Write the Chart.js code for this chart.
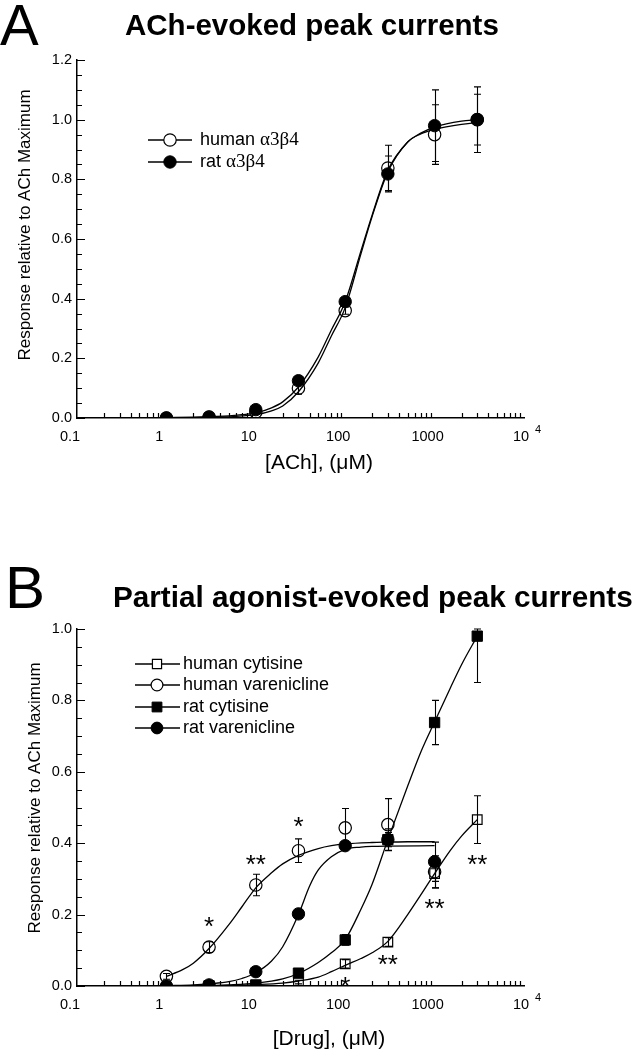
<!DOCTYPE html>
<html><head><meta charset="utf-8">
<script src="https://cdn.jsdelivr.net/npm/chart.js@4.4.1/dist/chart.umd.min.js"></script>
<style>
html,body{margin:0;padding:0;background:#fff;}
#wrap{position:relative;width:636px;height:1050px;overflow:hidden;background:#fff;}
canvas{position:absolute;left:0;}
</style></head><body>
<div id="wrap">
<canvas id="cA" width="636" height="480" style="top:0px"></canvas>
<canvas id="cB" width="636" height="570" style="top:480px"></canvas>
</div>
<script>
// ---------------- DATA ----------------
// Panel A: ACh concentration-response
const concA = [1, 3, 10, 30, 100, 300, 1000, 3000];
const humanA = [0.0, 0.003, 0.02, 0.10, 0.36, 0.838, 0.95, 1.0];
const humanAErr = [0, 0, 0.005, 0.02, 0.012, 0.076, 0.10, 0.085];
const ratA = [0.0, 0.003, 0.028, 0.125, 0.39, 0.818, 0.98, 1.0];
const ratAErr = [0, 0, 0.006, 0.012, 0.01, 0.06, 0.12, 0.11];
// fitted curves of panel A
const fitConcA = [1, 2, 3, 5, 7, 10, 15, 20, 30, 50, 70, 100, 150, 200, 300, 500, 700, 1000, 2000, 3000];
const humanAFit = [0.0005, 0.0015, 0.003, 0.004, 0.007, 0.011, 0.024, 0.04, 0.088, 0.185, 0.275, 0.37, 0.55, 0.675, 0.825, 0.925, 0.952, 0.967, 0.984, 0.99];
const ratAFit = [0.001, 0.003, 0.005, 0.007, 0.011, 0.017, 0.034, 0.054, 0.104, 0.205, 0.295, 0.39, 0.56, 0.68, 0.83, 0.925, 0.955, 0.975, 0.995, 1.0];

// Panel B: partial agonists
const concVar = [1, 3, 10, 30, 100, 300, 1000];
const concCyt = [3, 10, 30, 100, 300, 1000, 3000];
const humanCyt = [0.0, 0.002, 0.011, 0.062, 0.123, 0.315, 0.466];
const humanCytErr = [0, 0, 0.005, 0.012, 0.012, 0.04, 0.067];
const humanVar = [0.027, 0.109, 0.283, 0.379, 0.443, 0.452, 0.32];
const humanVarErr = [0.008, 0.015, 0.03, 0.033, 0.054, 0.073, 0.045];
const ratCyt = [0.0, 0.003, 0.036, 0.129, 0.41, 0.738, 0.98];
const ratCytErr = [0, 0, 0.006, 0.015, 0.03, 0.062, 0.13];
const ratVar = [0.0, 0.003, 0.04, 0.202, 0.393, 0.41, 0.348];
const ratVarErr = [0, 0, 0.005, 0.01, 0.01, 0.02, 0.055];
// fitted curves of panel B
const fitConcHVar = [1, 1.5, 2, 3, 5, 7, 10, 15, 20, 30, 50, 70, 100, 200, 300, 500, 1000];
const humanVarFit = [0.027, 0.045, 0.064, 0.105, 0.172, 0.222, 0.275, 0.317, 0.342, 0.366, 0.385, 0.393, 0.398, 0.402, 0.403, 0.404, 0.404];
const fitConcRVar = [1, 2, 3, 5, 7, 10, 15, 20, 30, 40, 50, 70, 100, 150, 200, 300, 1000];
const ratVarFit = [0.001, 0.003, 0.006, 0.012, 0.021, 0.037, 0.07, 0.11, 0.2, 0.28, 0.325, 0.362, 0.383, 0.389, 0.391, 0.392, 0.393];
const fitConcCyt = [3, 5, 10, 20, 30, 50, 70, 100, 150, 200, 300, 500, 700, 1000, 1500, 2000, 3000];
const ratCytFit = [0.001, 0.003, 0.008, 0.02, 0.035, 0.066, 0.093, 0.13, 0.215, 0.285, 0.41, 0.56, 0.655, 0.74, 0.835, 0.9, 0.98];
const humanCytFit = [0.001, 0.002, 0.004, 0.008, 0.014, 0.025, 0.04, 0.058, 0.077, 0.093, 0.125, 0.2, 0.255, 0.315, 0.38, 0.42, 0.466];

// significance marks (concentration, response level of the mark)
const starConc = [3, 10, 30, 100, 300, 1000, 3000];
const starLevel = [0.185, 0.359, 0.466, 0.017, 0.079, 0.236, 0.359];
const starText = ['*', '**', '*', '*', '**', '**', '**'];

// ticks
const xDecades = [0.1, 1, 10, 100, 1000, 10000];
const xDecadeLabels = ['0.1', '1', '10', '100', '1000', '  10'];
const xLastExponent = '4';
const yMajorA = [0, 0.2, 0.4, 0.6, 0.8, 1.0, 1.2];
const yLabelsA = ['0.0', '0.2', '0.4', '0.6', '0.8', '1.0', '1.2'];
const yMajorB = [0, 0.2, 0.4, 0.6, 0.8, 1.0];
const yLabelsB = ['0.0', '0.2', '0.4', '0.6', '0.8', '1.0'];

// ---------------- RENDERING ----------------
const SANS = "'Liberation Sans', Arial, Helvetica, sans-serif";
const SERIF = "'Liberation Serif', 'Times New Roman', serif";
Chart.defaults.font.family = SANS;
Chart.defaults.color = '#000';
Chart.defaults.animation = false;

const pts = (xs, ys) => xs.map((v, i) => ({x: v, y: ys[i]}));

function curve(xs, ys, order) {
  return {type: 'line', data: pts(xs, ys), borderColor: '#000', borderWidth: 1.3, pointRadius: 0,
    showLine: true, fill: false, cubicInterpolationMode: 'monotone', order: order};
}
function marks(label, xs, ys, style, filled, radius, order) {
  return {type: 'line', label: label, data: pts(xs, ys), showLine: false, pointStyle: style,
    pointRadius: radius, pointBackgroundColor: filled ? '#000' : 'rgba(0,0,0,0)',
    pointBorderColor: '#000', pointBorderWidth: filled ? 1 : 1.2, order: order};
}

function xAxis(h) {
  return {
    type: 'logarithmic', min: 0.1, max: 10000,
    grid: {display: false, drawTicks: false},
    border: {display: true, color: '#000', width: 1.5},
    ticks: {autoSkip: false, maxRotation: 0, minRotation: 0, padding: 10, labelOffset: -7,
      font: {size: 14.5}, color: '#000',
      callback: (v) => { const k = xDecades.findIndex(d => Math.abs(d - v) < d * 1e-6); return k >= 0 ? xDecadeLabels[k] : ''; }},
    afterBuildTicks: (s) => {
      const t = [];
      for (let i = 0; i < xDecades.length - 1; i++) {
        for (let m = 1; m <= 9; m++) t.push({value: xDecades[i] * m, major: m === 1});
      }
      t.push({value: xDecades[xDecades.length - 1], major: true});
      s.ticks = t;
    },
    afterFit: (s) => { s.height = h; }
  };
}
function yAxis(max, majors, labels) {
  return {
    type: 'linear', min: 0, max: max,
    grid: {display: false, drawTicks: false},
    border: {display: true, color: '#000', width: 1.5},
    ticks: {autoSkip: false, padding: 5, font: {size: 14.5}, color: '#000',
      callback: (v) => { const k = majors.findIndex(d => Math.abs(d - v) < 1e-6); return k >= 0 ? labels[k] : ''; }},
    afterBuildTicks: (s) => {
      const t = [];
      const n = Math.round(max / 0.05);
      for (let i = 0; i <= n; i++) {
        const v = Math.round(i * 5) / 100;
        t.push({value: v, major: majors.some(d => Math.abs(d - v) < 1e-6)});
      }
      s.ticks = t;
    },
    afterFit: (s) => { s.width = 77; }
  };
}

function annotPlugin(spec) {
  return {
    id: 'annot',
    beforeDatasetsDraw(chart) {
      const {ctx} = chart; const x = chart.scales.x, y = chart.scales.y;
      ctx.save(); ctx.strokeStyle = '#000'; ctx.lineWidth = 1.2; ctx.beginPath();
      x.ticks.forEach(t => {
        if (t.major) return;
        const px = Math.round(x.getPixelForValue(t.value)) + 0.5;
        ctx.moveTo(px, x.top); ctx.lineTo(px, x.top - 5);
      });
      y.ticks.forEach(t => {
        const py = Math.round(y.getPixelForValue(t.value)) + 0.5;
        ctx.moveTo(y.right, py); ctx.lineTo(y.right + (t.major ? 8 : 5), py);
      });
      ctx.stroke(); ctx.restore();
      // exponent of the last decade label
      ctx.save(); ctx.fillStyle = '#000'; ctx.font = '11px ' + SANS; ctx.textAlign = 'left'; ctx.textBaseline = 'alphabetic';
      ctx.fillText(xLastExponent, x.getPixelForValue(xDecades[xDecades.length - 1]) + 11, x.top + 15);
      ctx.restore();
    },
    afterDatasetsDraw(chart) {
      const {ctx} = chart; const x = chart.scales.x, y = chart.scales.y;
      ctx.save(); ctx.strokeStyle = '#000'; ctx.lineWidth = 1.1;
      spec.errors.forEach(e => {
        e.conc.forEach((c, i) => {
          const err = e.err[i]; if (!err) return;
          const lo = Math.max(e.val[i] - err, y.min), hi = Math.min(e.val[i] + err, y.max);
          const px = Math.round(x.getPixelForValue(c)) + 0.5;
          const p1 = y.getPixelForValue(lo), p2 = y.getPixelForValue(hi);
          ctx.beginPath();
          ctx.moveTo(px, p1); ctx.lineTo(px, p2);
          ctx.moveTo(px - 3.5, p1); ctx.lineTo(px + 3.5, p1);
          ctx.moveTo(px - 3.5, p2); ctx.lineTo(px + 3.5, p2);
          ctx.stroke();
        });
      });
      ctx.restore();
    },
    afterDraw(chart) {
      const {ctx} = chart; const x = chart.scales.x, y = chart.scales.y;
      ctx.save(); ctx.fillStyle = '#000';
      // free texts
      spec.texts.forEach(t => {
        ctx.save();
        ctx.font = t.font; ctx.textAlign = t.align || 'left'; ctx.textBaseline = 'alphabetic';
        ctx.translate(t.x, t.y);
        if (t.rot) ctx.rotate(t.rot);
        ctx.fillText(t.t, 0, 0);
        ctx.restore();
      });
      // legend
      const L = spec.legend;
      L.rows.forEach((r, i) => {
        const ds = chart.data.datasets[r.ds];
        const yy = L.y[i];
        ctx.strokeStyle = '#000'; ctx.lineWidth = 1.3;
        ctx.beginPath(); ctx.moveTo(L.x1, yy); ctx.lineTo(L.x2, yy); ctx.stroke();
        const filled = ds.pointBackgroundColor === '#000';
        ctx.fillStyle = filled ? '#000' : '#fff';
        ctx.lineWidth = ds.pointBorderWidth;
        Chart.helpers.drawPoint(ctx, {pointStyle: ds.pointStyle, rotation: 0, radius: ds.pointRadius * L.scale, borderWidth: ds.pointBorderWidth}, L.mx, yy);
        ctx.fillStyle = '#000'; ctx.textBaseline = 'middle'; ctx.textAlign = 'left';
        let tx = L.tx;
        r.parts.forEach(p => {
          ctx.font = p.font; ctx.fillText(p.t, tx, yy); tx += ctx.measureText(p.t).width;
        });
      });
      // significance marks
      if (spec.stars) {
        const fs = 26;
        ctx.font = fs + 'px ' + SANS; ctx.textAlign = 'center'; ctx.textBaseline = 'alphabetic';
        spec.stars.conc.forEach((c, i) => {
          ctx.fillText(spec.stars.text[i], x.getPixelForValue(c), y.getPixelForValue(spec.stars.level[i]) + fs * 0.59);
        });
      }
      ctx.restore();
    }
  };
}

// ----- Chart A -----
const dsA = [
  marks('rat \u03b13\u03b24', concA, ratA, 'circle', true, 6.2, 0),
  marks('human \u03b13\u03b24', concA, humanA, 'circle', false, 6.2, 1),
  curve(fitConcA, ratAFit, 2),
  curve(fitConcA, humanAFit, 3)
];
new Chart(document.getElementById('cA'), {
  type: 'line',
  data: {datasets: dsA},
  options: {
    responsive: false, devicePixelRatio: 1, events: [],
    layout: {padding: {left: 0, right: 112, top: 60, bottom: 0}},
    plugins: {legend: {display: false}, tooltip: {enabled: false}, title: {display: false}},
    scales: {x: xAxis(62), y: yAxis(1.2, yMajorA, yLabelsA)}
  },
  plugins: [annotPlugin({
    errors: [
      {conc: concA, val: humanA, err: humanAErr},
      {conc: concA, val: ratA, err: ratAErr}
    ],
    texts: [
      {t: 'A', x: 0, y: 45, font: '58px ' + SANS},
      {t: 'ACh-evoked peak currents', x: 125, y: 35, font: 'bold 29.5px ' + SANS},
      {t: '[ACh], (\u03bcM)', x: 319, y: 469, font: '21px ' + SANS, align: 'center'},
      {t: 'Response relative to ACh Maximum', x: 29.5, y: 225, font: '17px ' + SANS, align: 'center', rot: -Math.PI / 2}
    ],
    legend: {x1: 148, x2: 192, mx: 170, tx: 200, y: [140, 162], scale: 1,
      rows: [
        {ds: 1, parts: [{t: 'human ', font: '18px ' + SANS}, {t: '\u03b13\u03b24', font: '19px ' + SERIF}]},
        {ds: 0, parts: [{t: 'rat ', font: '18px ' + SANS}, {t: '\u03b13\u03b24', font: '19px ' + SERIF}]}
      ]}
  })]
});

// ----- Chart B -----
const dsB = [
  marks('rat varenicline', concVar, ratVar, 'circle', true, 6.2, 0),
  marks('rat cytisine', concCyt, ratCyt, 'rect', true, 7.3, 1),
  marks('human varenicline', concVar, humanVar, 'circle', false, 6.2, 2),
  marks('human cytisine', concCyt, humanCyt, 'rect', false, 6.8, 3),
  curve(fitConcHVar, humanVarFit, 4),
  curve(fitConcRVar, ratVarFit, 5),
  curve(fitConcCyt, ratCytFit, 6),
  curve(fitConcCyt, humanCytFit, 7)
];
new Chart(document.getElementById('cB'), {
  type: 'line',
  data: {datasets: dsB},
  options: {
    responsive: false, devicePixelRatio: 1, events: [],
    layout: {padding: {left: 0, right: 112, top: 149, bottom: 0}},
    plugins: {legend: {display: false}, tooltip: {enabled: false}, title: {display: false}},
    scales: {x: xAxis(64), y: yAxis(1.0, yMajorB, yLabelsB)}
  },
  plugins: [annotPlugin({
    errors: [
      {conc: concCyt, val: humanCyt, err: humanCytErr},
      {conc: concVar, val: humanVar, err: humanVarErr},
      {conc: concCyt, val: ratCyt, err: ratCytErr},
      {conc: concVar, val: ratVar, err: ratVarErr}
    ],
    texts: [
      {t: 'B', x: 5, y: 128, font: '60px ' + SANS},
      {t: 'Partial agonist-evoked peak currents', x: 113, y: 127, font: 'bold 29.7px ' + SANS},
      {t: '[Drug], (\u03bcM)', x: 329, y: 565, font: '21px ' + SANS, align: 'center'},
      {t: 'Response relative to ACh Maximum', x: 39.5, y: 318, font: '17px ' + SANS, align: 'center', rot: -Math.PI / 2}
    ],
    legend: {x1: 135, x2: 180, mx: 157, tx: 183, y: [184, 205, 227, 248], scale: 0.95,
      rows: [
        {ds: 3, parts: [{t: 'human cytisine', font: '18px ' + SANS}]},
        {ds: 2, parts: [{t: 'human varenicline', font: '18px ' + SANS}]},
        {ds: 1, parts: [{t: 'rat cytisine', font: '18px ' + SANS}]},
        {ds: 0, parts: [{t: 'rat varenicline', font: '18px ' + SANS}]}
      ]},
    stars: {conc: starConc, level: starLevel, text: starText}
  })]
});
</script>
</body></html>
